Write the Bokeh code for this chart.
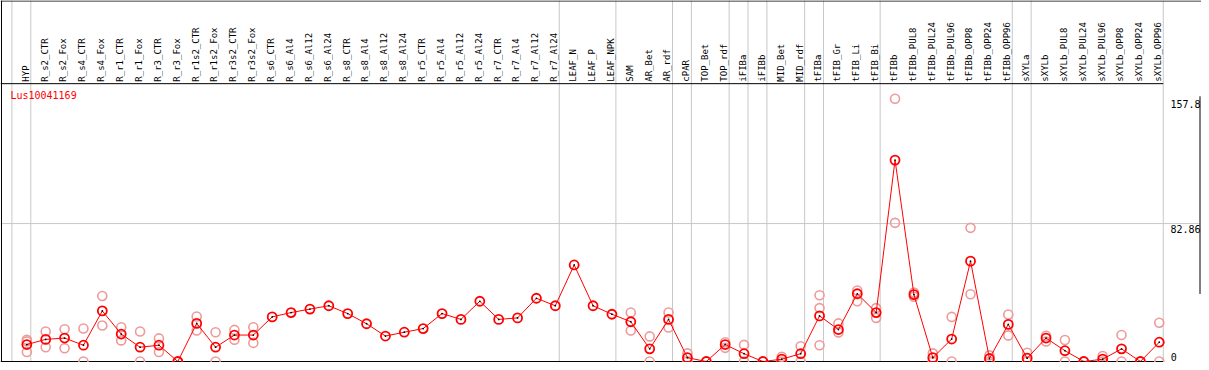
import math
from bokeh.plotting import figure
from bokeh.models import Range1d, ColumnDataSource
from bokeh.core.properties import value
from bokeh.embed import file_html
from bokeh.resources import INLINE

# ---------------- data ----------------
gene = "Lus10041169"

categories = [
    "HYP", "R_s2_CTR", "R_s2_Fox", "R_s4_CTR", "R_s4_Fox", "R_r1_CTR", "R_r1_Fox",
    "R_r3_CTR", "R_r3_Fox", "R_r1s2_CTR", "R_r1s2_Fox", "R_r3s2_CTR", "R_r3s2_Fox",
    "R_s6_CTR", "R_s6_Al4", "R_s6_Al12", "R_s6_Al24", "R_s8_CTR", "R_s8_Al4",
    "R_s8_Al12", "R_s8_Al24", "R_r5_CTR", "R_r5_Al4", "R_r5_Al12", "R_r5_Al24",
    "R_r7_CTR", "R_r7_Al4", "R_r7_Al12", "R_r7_Al24", "LEAF_N", "LEAF_P", "LEAF_NPK",
    "SAM", "AR_Bet", "AR_rdf", "cPAR", "TOP_Bet", "TOP_rdf", "iFIBa", "iFIBb",
    "MID_Bet", "MID_rdf", "tFIBa", "tFIB_Gr", "tFIB_Li", "tFIB_Bi", "tFIBb",
    "tFIBb_PUL8", "tFIBb_PUL24", "tFIBb_PUL96", "tFIBb_OPP8", "tFIBb_OPP24",
    "tFIBb_OPP96", "sXYLa", "sXYLb", "sXYLb_PUL8", "sXYLb_PUL24", "sXYLb_PUL96",
    "sXYLb_OPP8", "sXYLb_OPP24", "sXYLb_OPP96",
]

means = [
    10.2, 13.3, 14.1, 9.8, 30.4, 16.5, 8.6, 9.8, 0.0, 22.9,
    8.6, 15.9, 15.9, 26.8, 29.4, 31.5, 33.5, 28.8, 22.7, 15.3,
    17.6, 19.8, 28.8, 25.3, 36.2, 25.3, 26.2, 38.0, 33.5, 58.0,
    33.5, 28.4, 23.9, 7.6, 25.3, 2.3, 0.0, 10.2, 4.7, 0.0,
    1.4, 4.7, 27.4, 19.2, 40.7, 29.4, 121.0, 40.2, 2.3, 13.5,
    60.3, 1.8, 22.3, 2.0, 14.1, 6.5, 0.0, 1.4, 7.6, 0.0, 11.6,
]

replicates = [
    [13.1, 12.1, 5.7], [18.0, 8.6], [19.4, 8.0], [19.8, 0.0], [39.4, 21.6],
    [20.6, 12.7], [18.0, 0.0], [13.9, 5.7], [0.0], [27.0, 18.6],
    [17.6, 0.0], [19.0, 13.1], [20.6, 11.2], [], [],
    [], [], [], [], [],
    [], [], [], [], [],
    [], [], [], [], [],
    [], [], [29.4, 18.6], [15.1, 0.0], [29.4, 20.4],
    [4.9, 0.0], [0.0], [11.6, 8.2], [10.0, 0.0], [0.0],
    [2.9, 0.0], [9.2, 0.0], [39.8, 32.1, 9.8], [22.9, 17.5], [42.7, 36.2],
    [32.1, 26.2], [157.8, 83.3], [41.4, 38.9], [4.9, 0.0], [26.8, 0.0],
    [80.3, 40.4], [3.7, 0.0], [28.2, 15.7], [5.3, 0.0], [15.5, 12.0],
    [12.9, 0.0], [0.0], [3.3, 0.0], [15.9, 0.0], [0.0], [23.3, 0.0],
]

y_ticks = [0, 82.86, 157.8]
y_tick_labels = ["0", "82.86", "157.8"]
# group separators drawn just after these category indices
separators_after = [-1, 0, 28, 31, 34, 35, 37, 38, 39, 41, 42, 45, 52, 53, 60]

# ---------------- geometry (reference px) ----------------
REF_W, REF_H = 1209, 370
W, H = 1201, 362
X_FIRST = 26.5          # px of first category
X_STEP = 19.0           # px per category
Y_ZERO = 369.0          # px of value 0
PX_PER_UNIT = 141.0 / 82.86

def vx(px):
    return (px - X_FIRST) / X_STEP

def vy(py):
    return (Y_ZERO - py) / PX_PER_UNIT

x_start, x_end = vx(0), vx(REF_W)
y_start, y_end = vy(REF_H), vy(0)

p = figure(width=W, height=H, output_backend="svg", toolbar_location=None,
           x_range=Range1d(x_start, x_end), y_range=Range1d(y_start, y_end),
           x_axis_type=None, y_axis_type=None, min_border=0,
           background_fill_color="white", border_fill_color="white")
p.outline_line_color = None
p.grid.visible = False

n = len(categories)
xs = list(range(n))
sep_off = 4.0 / X_STEP
x_right = separators_after[-1] + sep_off

# horizontal grid line at middle tick
p.segment(x0=[x_start], x1=[vx(1207)], y0=[y_ticks[1]], y1=[y_ticks[1]],
          line_color="#c8c8c8", line_width=1)
# vertical group separators
sx = [s + sep_off for s in separators_after]
p.segment(x0=sx, x1=sx, y0=[y_start] * len(sx), y1=[y_end] * len(sx),
          line_color="#c8c8c8", line_width=1)

# black frame lines
header_y = vy(85)
p.segment(x0=[x_start, x_start, x_start, vx(1)],
          x1=[x_end, x_right, x_right, vx(1)],
          y0=[vy(0.5), header_y, 0, y_start],
          y1=[vy(0.5), header_y, 0, y_end],
          line_color="black", line_width=1)
p.segment(x0=[vx(1207.5)], x1=[vx(1207.5)], y0=[y_ticks[2] + 1.5], y1=[vy(300)],
          line_color="black", line_width=1)

# replicate points
rx, ry = [], []
for i, reps in enumerate(replicates):
    for r in reps:
        rx.append(i)
        ry.append(r)
p.scatter(rx, ry, marker="circle", size=9, fill_color=None,
          line_color="#ee9a9a", line_width=1.6)

# mean line and markers
src = ColumnDataSource(dict(x=xs, y=means))
p.line("x", "y", source=src, line_color="red", line_width=1)
p.scatter("x", "y", source=src, marker="circle", size=9, fill_color=None,
          line_color="red", line_width=1.8)
p.scatter("x", "y", source=src, marker="dot", size=7, line_color="black",
          fill_color="black")

# category labels (rotated)
p.text(x=[x - 0.06 for x in xs], y=[vy(83)] * n, text=categories, angle=math.pi / 2,
       text_align="left", text_baseline="middle", text_color="black",
       text_font=value("DejaVu Sans Mono"), text_font_size="9px")

# gene label
p.text(x=[vx(10)], y=[vy(97)], text=[gene], text_align="left",
       text_baseline="middle", text_color="red",
       text_font=value("DejaVu Sans Mono"), text_font_size="10px")

# value labels
p.text(x=[vx(1208), vx(1208)], y=[y_ticks[2], y_ticks[1]],
       text=[y_tick_labels[2], y_tick_labels[1]], text_align="right",
       text_baseline="top", y_offset=1, text_color="black",
       text_font=value("DejaVu Sans Mono"), text_font_size="10px")
p.text(x=[vx(1178)], y=[y_ticks[0]], text=[y_tick_labels[0]], text_align="left",
       text_baseline="bottom", y_offset=-1, text_color="black",
       text_font=value("DejaVu Sans Mono"), text_font_size="10px")

open("out.html", "w").write(file_html(p, INLINE))
